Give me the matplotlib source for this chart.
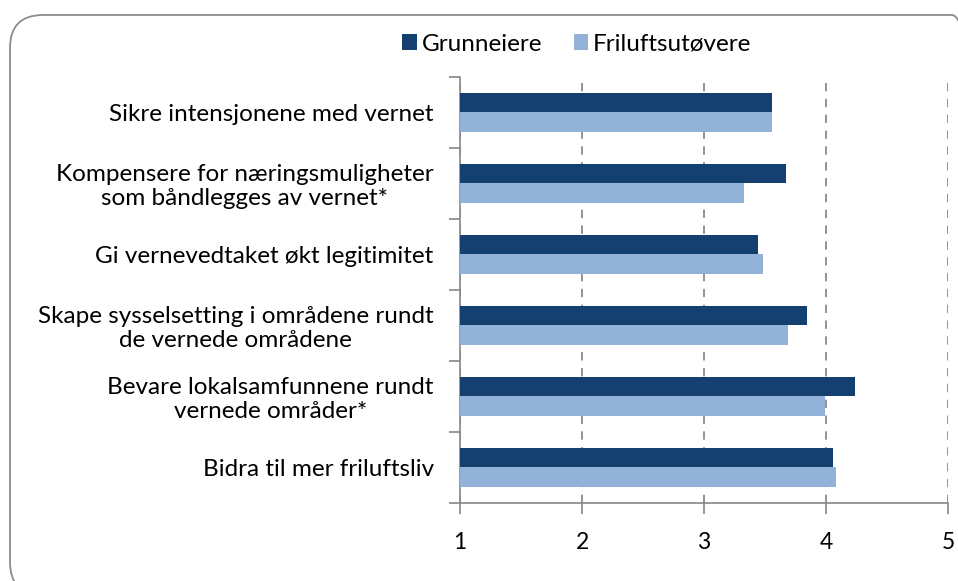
import matplotlib
matplotlib.use('Agg')
import numpy as np
from matplotlib import pyplot as plt
from matplotlib.patches import FancyBboxPatch

categories = [
    'Sikre intensjonene med vernet',
    'Kompensere for næringsmuligheter\nsom båndlegges av vernet*',
    'Gi vernevedtaket økt legitimitet',
    'Skape sysselsetting i områdene rundt\nde vernede områdene',
    'Bevare lokalsamfunnene rundt\nvernede områder*',
    'Bidra til mer friluftsliv',
]
grunneiere = [3.56, 3.67, 3.44, 3.84, 4.24, 4.06]
friluftsutovere = [3.56, 3.33, 3.48, 3.69, 3.99, 4.08]
series_names = ['Grunneiere', 'Friluftsutøvere']
x_ticks = [1, 2, 3, 4, 5]

plt.rcParams['font.family'] = ['Lato', 'DejaVu Sans']

fig = plt.figure(figsize=(9.58, 5.81), dpi=100)
# rounded frame, partly running off the right and bottom edges like the original
border = FancyBboxPatch((0.10, -0.14), 9.75, 5.80, transform=fig.dpi_scale_trans,
                        boxstyle='round,pad=0,rounding_size=0.33',
                        facecolor='none', edgecolor='#8c8c8c', linewidth=1.3,
                        zorder=-1)
fig.patches.append(border)

ax = fig.add_axes([0.4802, 0.1343, 0.5094, 0.7332])
ax.patch.set_alpha(0)
y = np.arange(len(categories))
h = 0.28
dark = '#14406F'
light = '#93B2D8'
ax.barh(y - h / 2, np.array(grunneiere) - 1, left=1, height=h, color=dark,
        label=series_names[0], zorder=3)
ax.barh(y + h / 2, np.array(friluftsutovere) - 1, left=1, height=h, color=light,
        label=series_names[1], zorder=3)

ax.set_xlim(1, 5)
ax.set_ylim(len(categories) - 0.5, -0.5)
ax.set_xticks(x_ticks)
ax.set_xticklabels([str(t) for t in x_ticks], fontsize=16.5)
ax.set_yticks(y)
ax.set_yticklabels(categories, fontsize=17.5, multialignment='center',
                   linespacing=1.12)
ax.set_yticks(np.arange(-0.5, len(categories)), minor=True)
ax.tick_params(axis='y', which='major', length=0, pad=19)
ax.tick_params(axis='y', which='minor', length=8, color='#868686', width=1.2)
ax.tick_params(axis='x', length=8, color='#868686', width=1.2, pad=13)

for s in ['top', 'right']:
    ax.spines[s].set_visible(False)
for s in ['left', 'bottom']:
    ax.spines[s].set_color('#868686')
    ax.spines[s].set_linewidth(1.2)

ax.grid(axis='x', color='#808080', linestyle=(0, (5, 4.5)), linewidth=1.2, zorder=0)
ax.set_axisbelow(True)

ax.legend(loc='center', bbox_to_anchor=(0.602, 0.924), bbox_transform=fig.transFigure,
          ncol=2, frameon=False, fontsize=17.5, handlelength=0.6, handleheight=0.6,
          handletextpad=0.2, columnspacing=1.3, borderpad=0)

fig.savefig('out.png', dpi=100)
